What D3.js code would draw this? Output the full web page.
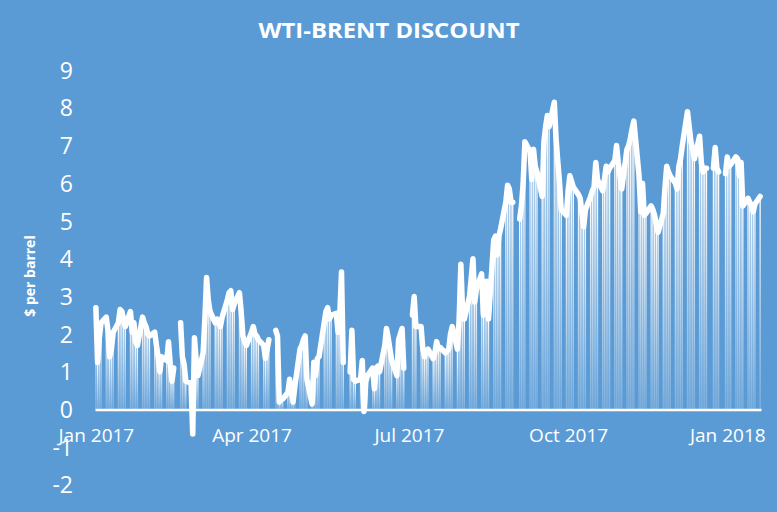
<!DOCTYPE html>
<html>
<head>
<meta charset="utf-8">
<script src="https://cdn.jsdelivr.net/npm/d3@7"></script>
<style>
  html, body { margin: 0; padding: 0; background: #5B9BD5; }
  svg { display: block; }
</style>
</head>
<body>
<svg id="chart" width="777" height="512"></svg>
<script>
// ---- Data (WTI-Brent discount, $ per barrel), one value per weekday starting Mon 2017-01-02; null = no quote
const firstWeekday = "2017-01-02";
const discount = [
  null, 2.7, 1.25, 1.9, 2.3,      // Jan 2
  2.45, 2.1, 1.4, 1.6, 2.05,      // Jan 9
  2.3, 2.65, 2.6, 2.4, 2.2,       // Jan 16
  2.6, 2.05, 2.3, 1.8, 1.7,       // Jan 23
  2.45, 2.3, 2.2, 2.0, 1.95,      // Jan 30
  2.05, 1.7, 1.4, 1.0, 1.4,       // Feb 6
  1.3, 1.8, 1.2, 0.75, 1.1,       // Feb 13
  null, 2.3, 1.4, 1.2, 0.75,      // Feb 20
  0.7, -0.65, 1.9, 1.3, 0.9,      // Feb 27
  1.5, 2.4, 3.5, 2.9, 2.6,        // Mar 6
  2.3, 2.4, 2.3, 2.2, 2.45,       // Mar 13
  2.9, 3.1, 3.15, 2.65, 2.8,      // Mar 20
  3.1, 2.6, 1.95, 1.8, 1.7,       // Mar 27
  2.05, 2.2, 2.0, 1.95, 1.85,     // Apr 3
  1.7, 1.35, 1.6, 1.85, null,     // Apr 10
  2.1, 1.95, 0.2, 0.3, 0.28,      // Apr 17
  0.45, 0.8, 0.5, 0.2, 0.6,       // Apr 24
  1.6, 1.7, 1.85, 1.95, 0.8,      // May 1
  0.15, 1.25, 0.9, 1.35, 1.4,     // May 8
  2.3, 2.6, 2.7, 2.4, 2.5,        // May 15
  2.55, 2.05, 2.5, 3.65, 1.25,    // May 22
  null, 1.0, 2.1, 0.8, 0.75,      // May 29
  0.8, 1.3, -0.05, 0.73, 0.9,     // Jun 5
  1.1, 0.55, 1.1, 1.15, 1.0,      // Jun 12
  1.7, 2.15, 1.9, 1.6, 1.3,       // Jun 19
  0.9, 1.85, 2.0, 2.15, 1.1,      // Jun 26
  null, null, 2.5, 3.0, 2.2,      // Jul 3
  2.2, 1.6, 1.4, 1.55, 1.6,       // Jul 10
  1.35, 1.5, 1.8, 1.6, 1.65,      // Jul 17
  1.5, 1.55, 1.6, 2.0, 2.2,       // Jul 24
  1.6, 2.4, 3.85, 2.6, 2.4,       // Jul 31
  3.0, 3.5, 4.0, 2.85, 3.2,       // Aug 7
  3.6, 2.5, 3.0, 3.4, 2.4,        // Aug 14
  4.5, 4.6, 4.1, 4.6, 4.8,        // Aug 21
  5.5, 5.95, 5.85, 5.5, 5.5,      // Aug 28
  null, 5.05, 5.4, 6.0, 7.1,      // Sep 4
  6.85, 6.1, 6.9, 6.45, 6.3,      // Sep 11
  5.65, 7.1, 7.5, 7.8, 7.5,       // Sep 18
  8.15, 7.2, 6.6, 6.05, 5.3,      // Sep 25
  5.15, 5.8, 6.2, 6.05, 5.9,      // Oct 2
  5.7, 5.6, 5.2, 4.85, 5.3,       // Oct 9
  5.65, 5.8, 5.9, 6.55, 6.1,      // Oct 16
  5.8, 6.1, 6.45, 6.3, 6.4,       // Oct 23
  6.6, 7.0, 6.55, 6.2, 5.85,      // Oct 30
  6.9, 7.0, 7.2, 7.45, 7.65,      // Nov 6
  6.2, 5.25, 6.0, 5.15, 5.2,      // Nov 13
  5.4, 5.3, 5.15, 4.9, 4.7,       // Nov 20
  5.2, 5.9, 6.45, 6.3, 6.2,       // Nov 27
  6.0, 5.85, 6.45, 6.65, 7.0,     // Dec 4
  7.9, 7.5, 7.1, 6.9, 6.65,       // Dec 11
  7.25, 6.55, 6.3, 6.4, 6.4,      // Dec 18
  null, 6.4, 6.95, 6.4, 6.3,      // Dec 25
  null, 6.25, 6.7, 6.45, 6.5,     // Jan 1 2018
  6.7, 6.65, 6.2, 6.55, 5.4,      // Jan 8
  5.6, 5.5, 5.4, 5.25, 5.45,      // Jan 15
  5.65                            // Jan 22
];
const axisStart = "2017-01-03";
const axisEnd = "2018-01-23";
const tickDates = ["2017-01-03", "2017-04-03", "2017-07-03", "2017-10-03", "2018-01-03"];
const tickLabels = ["Jan 2017", "Apr 2017", "Jul 2017", "Oct 2017", "Jan 2018"];
const yTicks = [-2, -1, 0, 1, 2, 3, 4, 5, 6, 7, 8, 9];
const titleText = "WTI-BRENT DISCOUNT";
const yTitle = "$ per barrel";

// ---- Build dated records (weekdays)
const parse = d3.utcParse("%Y-%m-%d");
const records = [];
{
  let d = parse(firstWeekday);
  let i = 0;
  while (i < discount.length) {
    const wd = d.getUTCDay();
    if (wd !== 0 && wd !== 6) {
      records.push({ date: d3.utcHour.offset(d, 12), v: discount[i] });
      i++;
    }
    d = d3.utcDay.offset(d, 1);
  }
}

const W = 777, H = 512;
const svg = d3.select("#chart");
svg.append("rect").attr("width", W).attr("height", H).attr("fill", "#5B9BD5");

const x = d3.scaleUtc().domain([parse(axisStart), parse(axisEnd)]).range([95, 761]);
const y = d3.scaleLinear().domain([-2, 9]).range([484.9, 70.2]);

// gradient for the drop columns
const defs = svg.append("defs");
const grad = defs.append("linearGradient").attr("id", "colGrad")
  .attr("x1", 0).attr("y1", 0).attr("x2", 0).attr("y2", 1);
grad.append("stop").attr("offset", "0%").attr("stop-color", "#fff").attr("stop-opacity", 1);
grad.append("stop").attr("offset", "100%").attr("stop-color", "#fff").attr("stop-opacity", 0.2);

// Title
svg.append("text")
  .attr("x", 389).attr("y", 38)
  .attr("text-anchor", "middle")
  .attr("fill", "#fff")
  .attr("font-family", "'Open Sans', sans-serif")
  .attr("font-weight", "bold")
  .attr("font-size", 22)
  .attr("textLength", 261).attr("lengthAdjust", "spacingAndGlyphs")
  .text(titleText);

// Y axis title
svg.append("text")
  .attr("transform", "translate(35,276) rotate(-90)")
  .attr("text-anchor", "middle")
  .attr("fill", "#fff")
  .attr("font-family", "'Open Sans', sans-serif")
  .attr("font-weight", "bold")
  .attr("font-size", 14)
  .text(yTitle);

// Y axis
const yAxis = svg.append("g").attr("transform", "translate(73,0)")
  .call(d3.axisLeft(y).tickValues(yTicks).tickSize(0).tickPadding(0).tickFormat(d => String(d)));
yAxis.select(".domain").remove();
yAxis.selectAll("text")
  .attr("fill", "#fff")
  .attr("font-family", "'Open Sans', sans-serif")
  .attr("font-size", 23)
  .attr("dy", "0.35em");

// columns
const defined = records.filter(d => d.v != null);
svg.append("g").selectAll("rect").data(defined).join("rect")
  .attr("x", d => x(d.date) - 0.65)
  .attr("width", 1.3)
  .attr("y", d => Math.min(y(d.v), y(0)))
  .attr("height", d => Math.abs(y(d.v) - y(0)))
  .attr("fill", "url(#colGrad)");

// X axis at zero
const xAxis = svg.append("g").attr("transform", `translate(0,${y(0)})`)
  .call(d3.axisBottom(x)
    .tickValues(tickDates.map(s => d3.utcHour.offset(parse(s), 12)))
    .tickFormat((d, i) => tickLabels[i])
    .tickSize(0).tickPadding(19));
xAxis.select(".domain").attr("stroke", "#fff").attr("stroke-width", 2.5);
xAxis.selectAll("text")
  .attr("fill", "#fff")
  .attr("font-family", "'Open Sans', sans-serif")
  .attr("font-size", 19);

// line
const line = d3.line()
  .defined(d => d.v != null)
  .x(d => x(d.date))
  .y(d => y(d.v));
svg.append("path")
  .datum(records)
  .attr("d", line)
  .attr("fill", "none")
  .attr("stroke", "#fff")
  .attr("stroke-width", 5.5)
  .attr("stroke-linejoin", "round")
  .attr("stroke-linecap", "round");
</script>
</body>
</html>
